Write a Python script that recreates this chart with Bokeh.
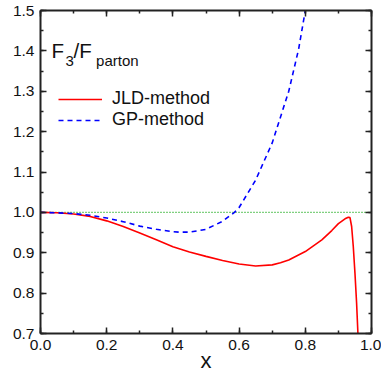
from bokeh.plotting import figure
from bokeh.models import (LinearAxis, Range1d, Label, Legend, LegendItem,
                          SingleIntervalTicker, NumeralTickFormatter, CustomJSTickFormatter)
from bokeh.embed import file_html
from bokeh.resources import INLINE

# JLD-method curve
x_jld = [0.0, 0.05, 0.1, 0.15, 0.2, 0.25, 0.3, 0.35, 0.4, 0.45, 0.5, 0.55, 0.6,
         0.65, 0.7, 0.725, 0.75, 0.8, 0.85, 0.88, 0.9, 0.92, 0.93, 0.935, 0.94,
         0.945, 0.95, 0.955, 0.959, 0.962]
y_jld = [1.000, 0.999, 0.996, 0.990, 0.979, 0.965, 0.949, 0.932, 0.915, 0.902,
         0.891, 0.881, 0.872, 0.867, 0.870, 0.875, 0.882, 0.903, 0.932, 0.955,
         0.972, 0.984, 0.988, 0.987, 0.965, 0.915, 0.850, 0.775, 0.700, 0.640]

# GP-method curve
x_gp = [0.0, 0.05, 0.1, 0.15, 0.2, 0.25, 0.3, 0.35, 0.4, 0.42, 0.45, 0.5, 0.55,
        0.586, 0.6, 0.65, 0.7, 0.75, 0.78, 0.8, 0.81]
y_gp = [1.000, 0.999, 0.997, 0.993, 0.986, 0.977, 0.966, 0.958, 0.952, 0.951,
        0.951, 0.958, 0.978, 1.000, 1.012, 1.080, 1.172, 1.300, 1.405, 1.500, 1.560]

# reference line at unity
x_ref = [0.0, 1.0]
y_ref = [1.0, 1.0]

FONT = "Liberation Sans"

p = figure(width=381, height=376, output_backend="svg", toolbar_location=None,
           x_range=Range1d(0, 1), y_range=Range1d(0.7, 1.5),
           min_border_left=40, min_border_right=10, min_border_top=10,
           min_border_bottom=43)
p.xgrid.visible = False
p.ygrid.visible = False
p.outline_line_color = None
p.background_fill_color = "white"

r_ref = p.line(x_ref, y_ref, line_color="#00a000", line_width=1.2, line_dash="1 2")
r_jld = p.line(x_jld, y_jld, line_color="#ff0000", line_width=1.6)
r_gp = p.line(x_gp, y_gp, line_color="#0000ff", line_width=1.6, line_dash="5 4")

bottom = p.below[0]
left = p.left[0]
top = LinearAxis()
right = LinearAxis()
p.add_layout(top, "above")
p.add_layout(right, "right")

for ax in (bottom, top):
    ax.ticker = SingleIntervalTicker(interval=0.2, num_minor_ticks=2)
for ax in (left, right):
    ax.ticker = SingleIntervalTicker(interval=0.1, num_minor_ticks=2)
for ax in (bottom, left):
    ax.formatter = NumeralTickFormatter(format="0.0")
for ax in (top, right):
    ax.formatter = CustomJSTickFormatter(code="return '';")
    ax.major_label_standoff = 0

for ax in (bottom, top, left, right):
    ax.axis_line_width = 2
    ax.axis_line_color = "#222222"
    ax.major_tick_line_color = "#222222"
    ax.minor_tick_line_color = "#222222"
    ax.major_tick_line_width = 1.5
    ax.minor_tick_line_width = 1.5
    ax.major_tick_in = 6
    ax.major_tick_out = 0
    ax.minor_tick_in = 3
    ax.minor_tick_out = 0
    ax.major_label_text_font = FONT
    ax.major_label_text_font_size = "15.5px"
    ax.major_label_text_color = "#111111"

bottom.major_label_standoff = 6
left.major_label_standoff = 6
bottom.axis_label = "x"
bottom.axis_label_text_font = FONT
bottom.axis_label_text_font_size = "22px"
bottom.axis_label_text_font_style = "normal"
bottom.axis_label_text_color = "#111111"
bottom.axis_label_standoff = -5

# title-like annotation F3/Fparton
p.add_layout(Label(x=0.0332, y=1.400, text="F", text_font=FONT,
                   text_font_size="20.5px", text_baseline="alphabetic", text_color="#111111"))
p.add_layout(Label(x=0.0755, y=1.3754, text="3", text_font=FONT,
                   text_font_size="15px", text_baseline="alphabetic", text_color="#111111"))
p.add_layout(Label(x=0.0997, y=1.400, text="/F", text_font=FONT,
                   text_font_size="20.5px", text_baseline="alphabetic", text_color="#111111"))
p.add_layout(Label(x=0.168, y=1.376, text="parton", text_font=FONT,
                   text_font_size="15px", text_baseline="alphabetic", text_color="#111111"))

legend = Legend(items=[LegendItem(label="JLD-method", renderers=[r_jld]),
                       LegendItem(label="GP-method", renderers=[r_gp])],
                location=(18, 203), border_line_color=None, background_fill_alpha=0,
                label_text_font=FONT, label_text_font_size="18px",
                label_text_color="#111111",
                glyph_width=44, glyph_height=20, label_height=20,
                label_standoff=10, spacing=0, padding=10, margin=0)
p.add_layout(legend)

open("out.html", "w").write(file_html(p, INLINE))
